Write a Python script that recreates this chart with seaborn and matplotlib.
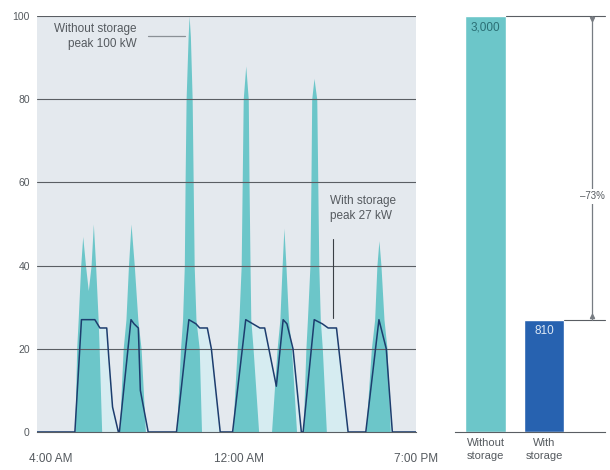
import matplotlib
matplotlib.use("Agg")
import matplotlib.pyplot as plt
import matplotlib.transforms as mtransforms
import seaborn as sns
import pandas as pd

sns.set_theme(style="white")
plt.rcParams["font.family"] = ["Liberation Sans", "DejaVu Sans"]

# Load profile without storage (hour of day, kW)
hours_without = [5.51, 5.58, 5.64, 5.74, 5.82, 5.93, 6.04, 6.15, 6.24, 6.33, 6.43, 6.47, 6.57,
                 7.27, 7.42, 7.53, 7.63, 7.73, 7.86, 8.00, 8.13, 8.30,
                 9.53, 9.69, 9.77, 9.84, 9.87, 9.91, 9.99, 10.03, 10.08, 10.15, 10.19, 10.23,
                 10.30, 10.43, 10.52,
                 11.75, 11.93, 12.00, 12.09, 12.13, 12.17, 12.27, 12.37, 12.40, 12.44, 12.47,
                 12.56, 12.78,
                 13.29, 13.51, 13.62, 13.71, 13.78, 13.86, 13.96, 14.08, 14.28,
                 14.54, 14.65, 14.71, 14.81, 14.85, 14.88, 14.97, 15.08, 15.12, 15.16, 15.22,
                 15.30, 15.46,
                 17.02, 17.24, 17.37, 17.46, 17.54, 17.62, 17.74, 17.86, 17.99]
kw_without = [0, 20, 27, 40, 47, 40, 34, 40, 50, 40, 27, 20, 0,
              0, 20, 27, 40, 50, 40, 27, 20, 0,
              0, 20, 27, 40, 60, 80, 95, 100, 95, 80, 60, 40,
              27, 20, 0,
              0, 20, 27, 40, 60, 80, 88, 80, 60, 40, 27,
              20, 0,
              0, 20, 27, 40, 49, 40, 27, 20, 0,
              0, 20, 27, 40, 60, 80, 85, 80, 60, 40, 27,
              20, 0,
              0, 20, 27, 40, 46, 40, 27, 20, 0]

# Load profile with storage (hour of day, kW)
hours_with = [4.0, 5.51, 5.77, 6.30, 6.50, 6.77, 6.85, 7.00, 7.23,
              7.27, 7.73, 7.85, 8.02, 8.10, 8.41,
              9.53, 10.02, 10.30, 10.45, 10.75, 10.91, 11.26,
              11.75, 12.27, 12.55, 12.83, 13.02, 13.48, 13.75, 13.90, 14.14, 14.47,
              14.54, 14.98, 15.30, 15.53, 15.86, 16.32,
              17.02, 17.54, 17.83, 18.07, 19.0]
kw_with = [0, 0, 27, 27, 25, 25, 18, 6, 0,
           0, 27, 26, 25, 10, 0,
           0, 27, 26, 25, 25, 20, 0,
           0, 27, 26, 25, 25, 11, 27, 26, 20, 0,
           0, 27, 26, 25, 25, 0,
           0, 27, 20, 0, 0]

x_ticks = [4, 12, 19]
x_tick_labels = ["4:00 AM", "12:00 AM", "7:00 PM"]
y_ticks = [0, 20, 40, 60, 80, 100]

# Daily energy comparison
bar_categories = ["Without\nstorage", "With\nstorage"]
bar_values = [3000, 810]
bar_labels = ["3,000", "810"]

TEAL = "#6cc6c9"
PALE = "#d6ecf1"
NAVY = "#1d3d6e"
BLUE = "#2762b0"
GRID = "#5a5e63"
TEXT = "#555a5f"

df_without = pd.DataFrame({"hour": hours_without, "kW": kw_without})
df_with = pd.DataFrame({"hour": hours_with, "kW": kw_with})

fig = plt.figure(figsize=(6.10, 4.70), dpi=100)
ax = fig.add_axes([0.0602, 0.0809, 0.6215, 0.8851])
ax.set_facecolor("#e4e9ee")

ax.fill_between(df_with["hour"], df_with["kW"], color=PALE, lw=0, zorder=1)
ax.fill_between(df_without["hour"], df_without["kW"], color=TEAL, lw=0, zorder=2)
sns.lineplot(data=df_with, x="hour", y="kW", ax=ax, sort=False,
             color=NAVY, lw=1.1, zorder=4)

ax.set_xlim(4, 19)
ax.set_ylim(0, 100)
ax.set_yticks(y_ticks)
ax.set_yticklabels([str(v) for v in y_ticks])
ax.set_xticks(x_ticks)
ax.set_xticklabels(x_tick_labels)
ax.set_xticks(range(4, 20), minor=True)
ax.set_xlabel("")
ax.set_ylabel("")
for v in y_ticks[1:]:
    ax.axhline(v, color=GRID, lw=0.8, zorder=3)
for s in ["left", "right", "top"]:
    ax.spines[s].set_visible(False)
ax.spines["bottom"].set_color(GRID)
ax.spines["bottom"].set_linewidth(0.8)
ax.tick_params(axis="y", length=0, pad=5, labelsize=7.5, labelcolor=TEXT)
ax.tick_params(axis="x", which="major", direction="inout", length=8, width=0.8,
               color=GRID, pad=11, labelsize=8.5, labelcolor=TEXT)
ax.tick_params(axis="x", which="minor", direction="inout", length=4, width=0.8,
               color=GRID)
# nudge the first time label inward so it sits under the plot
first = ax.get_xticklabels()[0]
first.set_transform(first.get_transform() +
                    mtransforms.ScaledTranslation(10 / 72, 0, fig.dpi_scale_trans))

# Peak annotations
ax.text(7.96, 98.3, "Without storage\npeak 100 kW", ha="right", va="top",
        fontsize=8.5, color=TEXT, linespacing=1.35, zorder=5)
ax.plot([8.4, 9.87], [95.2, 95.2], color="#8a9096", lw=0.9, zorder=5)
ax.text(15.6, 57.0, "With storage\npeak 27 kW", ha="left", va="top",
        fontsize=8.5, color=TEXT, linespacing=1.35, zorder=5)
ax.plot([15.72, 15.72], [46.5, 27.3], color="#3a3f45", lw=0.8, zorder=5)

# Right panel: daily energy bars
ax2 = fig.add_axes([0.7459, 0.0809, 0.2459, 0.8851])
sns.barplot(x=bar_categories, y=bar_values, hue=bar_categories,
            palette=[TEAL, BLUE], legend=False, width=0.7, ax=ax2,
            saturation=1)
ax2.set_xlim(-0.521, 2.043)
ax2.set_ylim(0, bar_values[0])
ax2.set_yticks([])
ax2.set_ylabel("")
for s in ["left", "right", "top"]:
    ax2.spines[s].set_visible(False)
ax2.spines["bottom"].set_color(GRID)
ax2.spines["bottom"].set_linewidth(0.8)
ax2.tick_params(axis="x", length=0, pad=4, labelsize=8, labelcolor=TEXT)
for lbl in ax2.get_xticklabels():
    lbl.set_linespacing(1.45)

ax2.text(0, bar_values[0] - 40, bar_labels[0], ha="center", va="top",
         fontsize=8.5, color="#2b6f75")
ax2.text(1, bar_values[1] - 40, bar_labels[1], ha="center", va="top",
         fontsize=8.5, color="#dde8f5")

# Reduction dimension line
dim_x = 1.82
ax2.plot([0.35, 2.043], [bar_values[0]] * 2, color=GRID, lw=0.8, clip_on=False)
ax2.plot([1.35, 2.043], [bar_values[1]] * 2, color=GRID, lw=0.8, clip_on=False)
ax2.plot([dim_x, dim_x], [bar_values[1], bar_values[0]], color="#777c82", lw=0.9)
ax2.plot([dim_x], [bar_values[1] + 25], marker="^", ms=3, color="#777c82")
ax2.plot([dim_x], [bar_values[0] - 25], marker="v", ms=3, color="#777c82")
change = (bar_values[1] - bar_values[0]) / bar_values[0] * 100
ax2.text(dim_x, 1700, f"\u2013{abs(change):.0f}%", ha="center", va="center",
         fontsize=7, color=TEXT,
         bbox=dict(boxstyle="square,pad=0.25", fc="white", ec="none"))

fig.savefig("out.png", dpi=100, facecolor="white")
